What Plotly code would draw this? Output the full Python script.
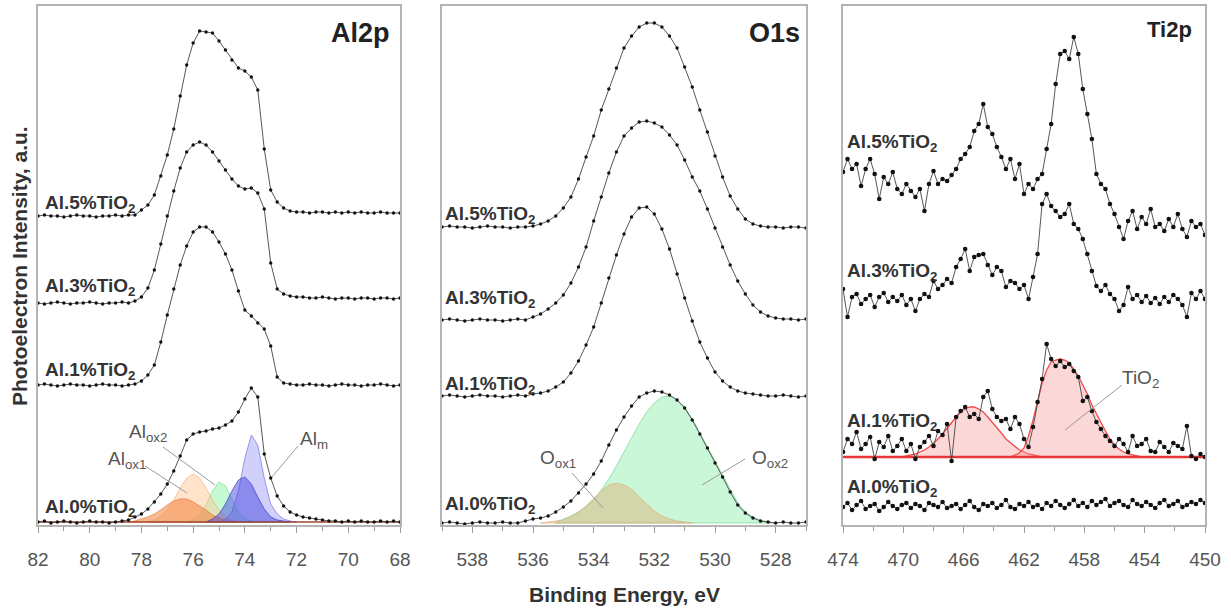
import plotly.graph_objects as go

W, H = 1231, 613

# ---------------- DATA ----------------
# Al2p panel (binding energy, eV) and intensities (a.u.)
AL2P_BE = [82.0, 81.75, 81.5, 81.25, 81.0, 80.75, 80.5, 80.25, 80.0, 79.75, 79.5, 79.25, 79.0, 78.75,
           78.5, 78.25, 78.0, 77.75, 77.5, 77.25, 77.0, 76.75, 76.5, 76.25, 76.0, 75.75, 75.5, 75.25,
           75.0, 74.75, 74.5, 74.25, 74.0, 73.75, 73.5, 73.25, 73.0, 72.75, 72.5, 72.25, 72.0, 71.75,
           71.5, 71.25, 71.0, 70.75, 70.5, 70.25, 70.0, 69.75, 69.5, 69.25, 69.0, 68.75, 68.5, 68.25, 68.0]
AL2P_5 = [309, 310, 309, 309, 308, 309, 310, 309, 309, 308, 309, 309, 310, 309, 310, 310,
          315, 320, 330, 349, 370, 396, 429, 460, 482, 494, 493, 492, 484, 475, 465, 457, 454, 448,
          435, 376, 335, 323, 317, 314, 313,
          313, 312, 313, 313, 312, 313, 312, 313, 312, 313, 312, 312, 313, 312, 312, 312]
AL2P_3 = [222, 221, 222, 223, 222, 221, 222, 222, 223, 222, 221, 222, 222, 223, 222,
          224, 228, 237, 255, 281, 309, 334, 357, 373, 380, 383, 380, 373, 364, 355, 346, 339, 336,
          337, 332, 316, 262, 236, 231, 229, 228,
          228, 227, 227, 228, 227, 226, 227, 227, 226, 227, 227, 226, 227, 227, 226, 227]
AL2P_1 = [140, 141, 140, 139, 140, 141, 140, 140, 139, 140, 141, 140, 140, 139, 140, 141,
          144, 150, 160, 183, 210, 236, 260, 279, 293, 298, 298, 293, 283, 271, 255, 234, 215, 209,
          202, 196, 179, 148, 142, 141, 140,
          140, 141, 140, 140, 139, 140, 141, 140, 140, 139, 140, 140, 141, 140, 139, 140]
AL2P_0 = [3, 4, 2, 3, 4, 3, 2, 3, 4, 3, 3, 2, 3, 4, 5,
          8, 11, 16, 23, 31, 41, 54, 69, 85, 91, 93, 94, 96, 97, 100, 104, 113, 126, 137, 128, 71,
          47, 29, 19, 13, 10,
          8, 7, 6, 5, 4, 4, 3, 4, 3, 4, 3, 3, 4, 3, 4, 3]
AL2P_BASE = 3
ALOX1_BE = [77.75, 77.5, 77.25, 77.0, 76.75, 76.5, 76.25, 76.0, 75.75, 75.5, 75.25, 75.0, 74.75, 74.5, 74.25]
ALOX1 = [0, 2, 5, 12, 22, 34, 44, 48, 44, 34, 22, 12, 5, 2, 0]
ALOX1B_BE = [78.5, 78.25, 78.0, 77.75, 77.5, 77.25, 77.0, 76.75, 76.5, 76.25, 76.0, 75.75, 75.5, 75.25,
             75.0, 74.75, 74.5, 74.25]
ALOX1B = [0, 1, 3, 5, 8, 12, 17, 21, 23, 23, 20, 16, 12, 7, 4, 2, 1, 0]
ALOX2_BE = [76.25, 76.0, 75.75, 75.5, 75.25, 75.0, 74.75, 74.5, 74.25, 74.0, 73.75, 73.5]
ALOX2 = [0, 2, 7, 17, 31, 40, 36, 23, 10, 3, 1, 0]
ALM_BE = [75.0, 74.75, 74.5, 74.25, 74.0, 73.75, 73.5, 73.25, 73.0, 72.75, 72.5, 72.25, 72.0]
ALM = [0, 2, 10, 31, 64, 87, 77, 44, 18, 8, 3, 1, 0]
ALMB_BE = [75.5, 75.25, 75.0, 74.75, 74.5, 74.25, 74.0, 73.75, 73.5, 73.25, 73.0, 72.75, 72.5, 72.25]
ALMB = [0, 3, 8, 18, 31, 42, 45, 38, 25, 13, 5, 2, 1, 0]

# O1s panel
O1S_BE = [539.0, 538.75, 538.5, 538.25, 538.0, 537.75, 537.5, 537.25, 537.0, 536.75, 536.5, 536.25,
          536.0, 535.75, 535.5, 535.25, 535.0, 534.75, 534.5, 534.25, 534.0, 533.75, 533.5, 533.25,
          533.0, 532.75, 532.5, 532.25, 532.0, 531.75, 531.5, 531.25, 531.0, 530.75, 530.5, 530.25,
          530.0, 529.75, 529.5, 529.25, 529.0, 528.75, 528.5, 528.25, 528.0, 527.75, 527.5, 527.25, 527.0]
O1S_5 = [298, 299, 298, 298, 297, 298, 299, 298, 298, 297, 298, 298,
         299, 301, 304, 309, 317, 328, 346, 368, 389, 415, 436, 457, 477, 489, 498, 502, 502, 498,
         489, 477, 458, 438, 415, 393, 369, 348, 329, 316, 306, 301, 299, 298,
         298, 297, 298, 298, 297]
O1S_3 = [205, 206, 205, 204, 205, 206, 205, 205, 204, 205, 206, 205,
         208, 211, 216, 222, 230, 242, 258, 278, 304, 328, 352, 373, 389, 397, 403, 404, 402, 398,
         390, 380, 365, 348, 334, 316, 297, 278, 260, 244, 231, 220, 213, 209,
         207, 206, 206, 205, 206]
O1S_1 = [129, 130, 129, 128, 129, 130, 129, 129, 128, 129, 130, 129,
         131, 132, 134, 138, 143, 152, 164, 180, 198, 222, 247, 270, 291, 308, 317, 318, 311, 296,
         276, 251, 227, 204, 183, 167, 153, 144, 138, 134, 132, 131, 130, 129,
         129, 130, 129, 128, 129]
O1S_0 = [2, 3, 2, 1, 2, 3, 2, 2, 3, 2, 2, 4,
         6, 7, 9, 13, 18, 24, 32, 41, 51, 64, 80, 95, 108, 119, 128, 132, 134, 133,
         130, 125, 117, 105, 91, 77, 62, 48, 33, 20, 12, 7, 4, 3,
         2, 3, 2, 2, 3]
O1S_BASE = 2
OOX1_BE = [535.75, 535.5, 535.25, 535.0, 534.75, 534.5, 534.25, 534.0, 533.75, 533.5, 533.25, 533.0,
           532.75, 532.5, 532.25, 532.0, 531.75, 531.5, 531.25, 531.0, 530.75]
OOX1 = [0, 1, 2, 3, 6, 11, 17, 25, 32, 38, 40, 38, 34, 26, 19, 12, 7, 4, 2, 1, 0]
OOX2_BE = [535.25, 535.0, 534.75, 534.5, 534.25, 534.0, 533.75, 533.5, 533.25, 533.0, 532.75, 532.5,
           532.25, 532.0, 531.75, 531.5, 531.25, 531.0, 530.75, 530.5, 530.25, 530.0, 529.75, 529.5,
           529.25, 529.0, 528.75, 528.5, 528.25, 528.0]
OOX2 = [0, 4, 7, 11, 16, 23, 33, 44, 57, 71, 85, 99, 111, 120, 126, 127, 123, 116, 104, 90, 76, 61,
        47, 33, 20, 11, 6, 3, 1, 0]

# Ti2p panel
TI_BE = [474.0, 473.7, 473.4, 473.1, 472.8, 472.5, 472.2, 471.9, 471.6, 471.3, 471.0, 470.7, 470.4,
         470.1, 469.8, 469.5, 469.2, 468.9, 468.6, 468.3, 468.0, 467.7, 467.4, 467.1, 466.8, 466.5,
         466.2, 465.9, 465.6, 465.3, 465.0, 464.7, 464.4, 464.1, 463.8, 463.5, 463.2, 462.9, 462.6,
         462.3, 462.0, 461.7, 461.4, 461.1, 460.8, 460.5, 460.2, 459.9, 459.6, 459.3, 459.0, 458.7,
         458.4, 458.1, 457.8, 457.5, 457.2, 456.9, 456.6, 456.3, 456.0, 455.7, 455.4, 455.1, 454.8,
         454.5, 454.2, 453.9, 453.6, 453.3, 453.0, 452.7, 452.4, 452.1, 451.8, 451.5, 451.2, 450.9,
         450.6, 450.3, 450.0]
TI_5 = [353, 366, 356, 361, 339, 356, 366, 351, 326, 348,
        341, 353, 336, 331, 341, 334, 328, 336, 314, 341,
        354, 341, 346, 344, 350, 356, 366, 371, 378, 394,
        401, 421, 398, 391, 378, 368, 356, 366, 346, 361,
        331, 341, 336, 346, 351, 376, 401, 441, 471, 474,
        466, 488, 471, 436, 411, 386, 351, 341, 336, 321,
        311, 298, 286, 304, 314, 296, 308, 301, 316, 298,
        301, 294, 306, 298, 311, 296, 288, 304, 298, 301,
        290]
TI_3 = [236, 208, 228, 231, 221, 226, 230, 218, 228, 232,
        223, 228, 224, 230, 220, 226, 214, 226, 231, 228,
        244, 236, 240, 246, 242, 258, 266, 276, 254, 268,
        270, 271, 260, 250, 258, 254, 238, 244, 242, 236,
        240, 226, 248, 271, 321, 331, 319, 314, 308, 311,
        321, 301, 296, 286, 271, 254, 239, 234, 240, 231,
        226, 214, 220, 238, 226, 230, 223, 229, 222, 227,
        221, 228, 223, 230, 226, 220, 208, 232, 226, 234,
        226]
TI_1 = [73, 86, 81, 93, 76, 81, 88, 66, 83, 78,
        89, 74, 79, 86, 74, 81, 66, 78, 83, 89,
        79, 94, 90, 101, 64, 108, 114, 118, 108, 111,
        106, 128, 134, 116, 108, 104, 106, 96, 108, 101,
        86, 78, 98, 123, 146, 181, 166, 159, 164, 158,
        161, 154, 148, 124, 128, 114, 103, 96, 89, 84,
        79, 86, 81, 73, 89, 79, 81, 86, 74, 73,
        83, 78, 73, 82, 79, 76, 99, 69, 66, 71,
        68]
TI_0 = [18, 22, 15, 20, 24, 16, 19, 21, 14, 18,
        23, 19, 16, 20, 22, 17, 21, 19, 15, 22,
        20, 18, 23, 17, 19, 21, 16, 20, 24, 18,
        15, 21, 19, 22, 17, 20, 25, 18, 16, 21,
        19, 23, 18, 20, 16, 22, 19, 24, 20, 17,
        21, 25, 19, 22, 18, 24, 20, 23, 26, 19,
        22, 24, 20, 18, 25, 21, 19, 23, 20, 17,
        22, 25, 19, 21, 24, 18, 20, 23, 21, 25,
        22]
TI_BASE = 68
TIC1_BE = [470.1, 469.8, 469.5, 469.2, 468.9, 468.6, 468.3, 468.0, 467.7, 467.4, 467.1, 466.8, 466.5,
           466.2, 465.9, 465.6, 465.3, 465.0, 464.7, 464.4, 464.1, 463.8, 463.5, 463.2, 462.9, 462.6,
           462.3, 462.0, 461.7, 461.4, 461.1, 460.8]
TIC1 = [0, 1, 2, 3, 5, 7, 10, 14, 18, 23, 29, 35, 40, 45, 48, 50, 50, 48, 45, 40, 35, 29, 24, 18, 14,
        10, 7, 5, 3, 2, 1, 0]
TIC2_BE = [462.9, 462.6, 462.3, 462.0, 461.7, 461.4, 461.1, 460.8, 460.5, 460.2, 459.9, 459.6, 459.3,
           459.0, 458.7, 458.4, 458.1, 457.8, 457.5, 457.2, 456.9, 456.6, 456.3, 456.0, 455.7, 455.4,
           455.1, 454.8, 454.5, 454.2]
TIC2 = [0, 2, 4, 9, 21, 37, 56, 74, 87, 95, 97, 98, 97, 94, 88, 81, 72, 63, 52, 43, 34, 26, 18, 12,
        8, 5, 3, 2, 1, 0]

SAMPLES = ["Al.5%TiO<sub>2</sub>", "Al.3%TiO<sub>2</sub>", "Al.1%TiO<sub>2</sub>", "Al.0%TiO<sub>2</sub>"]
AL2P_TICKS = [82, 80, 78, 76, 74, 72, 70, 68]
O1S_TICKS = [538, 536, 534, 532, 530, 528]
TI_TICKS = [474, 470, 466, 462, 458, 454, 450]

for xs, ys in [(AL2P_BE, AL2P_5), (AL2P_BE, AL2P_3), (AL2P_BE, AL2P_1), (AL2P_BE, AL2P_0),
               (O1S_BE, O1S_5), (O1S_BE, O1S_3), (O1S_BE, O1S_1), (O1S_BE, O1S_0),
               (TI_BE, TI_5), (TI_BE, TI_3), (TI_BE, TI_1), (TI_BE, TI_0),
               (ALOX1_BE, ALOX1), (ALOX1B_BE, ALOX1B), (ALOX2_BE, ALOX2), (ALM_BE, ALM),
               (ALMB_BE, ALMB), (OOX1_BE, OOX1), (OOX2_BE, OOX2), (TIC1_BE, TIC1), (TIC2_BE, TIC2)]:
    assert len(xs) == len(ys), (len(xs), len(ys))

# ---------------- FIGURE ----------------
def PX(x):
    return x / W


def PY(y):
    return (H - y) / H


fig = go.Figure()


def data_trace(x, y, xa, ya, msize, lw=0.9):
    fig.add_trace(go.Scatter(x=x, y=y, mode="lines+markers", xaxis=xa, yaxis=ya,
                             line=dict(color="#444444", width=lw),
                             marker=dict(size=msize, color="#111111"),
                             showlegend=False, hoverinfo="skip"))


def fill_trace(x, vals, base, fillcolor, linecolor, xa, ya, lw=0.8):
    xs = list(x) + list(x)[::-1]
    ys = [base + v for v in vals] + [base] * len(x)
    fig.add_trace(go.Scatter(x=xs, y=ys, mode="lines", fill="toself", fillcolor=fillcolor,
                             line=dict(color=linecolor, width=lw), xaxis=xa, yaxis=ya,
                             showlegend=False, hoverinfo="skip"))


# Al2p components
fill_trace(ALOX2_BE, ALOX2, AL2P_BASE, "rgba(150,245,175,0.55)", "rgba(110,220,140,0.9)", "x", "y")
fill_trace(ALOX1_BE, ALOX1, AL2P_BASE, "rgba(255,200,150,0.5)", "rgba(245,180,130,0.9)", "x", "y")
fill_trace(ALOX1B_BE, ALOX1B, AL2P_BASE, "rgba(240,130,60,0.55)", "rgba(235,120,50,0.9)", "x", "y")
fill_trace(ALM_BE, ALM, AL2P_BASE, "rgba(150,150,245,0.45)", "rgba(120,120,230,0.9)", "x", "y")
fill_trace(ALMB_BE, ALMB, AL2P_BASE, "rgba(70,70,225,0.5)", "rgba(60,60,200,0.9)", "x", "y")
fig.add_trace(go.Scatter(x=[AL2P_BE[0], AL2P_BE[-1]], y=[AL2P_BASE, AL2P_BASE], mode="lines",
                         line=dict(color="#a04a30", width=1.6), xaxis="x", yaxis="y",
                         showlegend=False, hoverinfo="skip"))
for ys in (AL2P_5, AL2P_3, AL2P_1, AL2P_0):
    data_trace(AL2P_BE, ys, "x", "y", 3.4)

# O1s components
fill_trace(OOX2_BE, OOX2, O1S_BASE, "rgba(150,240,175,0.5)", "rgba(120,215,145,0.9)", "x2", "y2")
fill_trace(OOX1_BE, OOX1, O1S_BASE, "rgba(225,160,100,0.38)", "rgba(225,175,125,0.9)", "x2", "y2")
for ys in (O1S_5, O1S_3, O1S_1, O1S_0):
    data_trace(O1S_BE, ys, "x2", "y2", 3.4)

# Ti2p fit
fill_trace(TIC1_BE, TIC1, TI_BASE, "rgba(245,140,140,0.35)", "#f04a4a", "x3", "y3", 1.3)
fill_trace(TIC2_BE, TIC2, TI_BASE, "rgba(245,140,140,0.35)", "#f04a4a", "x3", "y3", 1.3)
fig.add_trace(go.Scatter(x=[TI_BE[0], TI_BE[-1]], y=[TI_BASE, TI_BASE], mode="lines",
                         line=dict(color="#e83535", width=2.4), xaxis="x3", yaxis="y3",
                         showlegend=False, hoverinfo="skip"))
for ys in (TI_5, TI_3, TI_1, TI_0):
    data_trace(TI_BE, ys, "x3", "y3", 4.6)

# ---------------- AXES ----------------
YDOM = [PY(525), PY(6)]
axis_common = dict(showline=True, mirror=True, linecolor="#b4b4b4", linewidth=1.5,
                   showgrid=False, zeroline=False, automargin=False)
xcommon = dict(axis_common, ticks="outside", ticklen=6, tickwidth=1.2, tickcolor="#9a9a9a",
               tickfont=dict(family="Liberation Sans, Arial", size=19, color="#555555"),
               ticklabelstandoff=10)
ycommon = dict(axis_common, showticklabels=False, ticks="", range=[0, 519], domain=YDOM)

fig.update_layout(
    template="none",
    xaxis=dict(xcommon, domain=[PX(38), PX(400)], range=[82, 68], anchor="y",
               tickmode="array", tickvals=AL2P_TICKS, ticktext=[str(t) for t in AL2P_TICKS],
               minor=dict(ticks="outside", ticklen=4, tickcolor="#9a9a9a", dtick=1, tick0=0)),
    xaxis2=dict(xcommon, domain=[PX(442), PX(806)], range=[539, 527], anchor="y2",
                tickmode="array", tickvals=O1S_TICKS, ticktext=[str(t) for t in O1S_TICKS],
                minor=dict(ticks="outside", ticklen=4, tickcolor="#9a9a9a", dtick=1, tick0=0)),
    xaxis3=dict(xcommon, domain=[PX(843), PX(1205)], range=[474, 450], anchor="y3",
                tickmode="array", tickvals=TI_TICKS, ticktext=[str(t) for t in TI_TICKS],
                minor=dict(ticks="outside", ticklen=4, tickcolor="#9a9a9a", dtick=2, tick0=0)),
    yaxis=dict(ycommon, anchor="x"),
    yaxis2=dict(ycommon, anchor="x2"),
    yaxis3=dict(ycommon, anchor="x3"),
    width=W, height=H, margin=dict(l=0, r=0, t=0, b=0, pad=0, autoexpand=False),
    paper_bgcolor="white", plot_bgcolor="white", showlegend=False,
)

# ---------------- TEXT ----------------
ann = []


def text(x, y, s, size, bold=False, color="#333333", xanchor="left", angle=0):
    ann.append(dict(x=PX(x), y=PY(y), xref="paper", yref="paper", text=(f"<b>{s}</b>" if bold else s),
                    showarrow=False, xanchor=xanchor, yanchor="middle", textangle=angle,
                    font=dict(family="Liberation Sans, Arial", size=size, color=color)))


# sample labels
for s, y in zip(SAMPLES, [204, 287, 371, 508]):
    text(43, y, s, 19, True)
for s, y in zip(SAMPLES, [215, 299, 385, 505]):
    text(443, y, s, 19, True)
for s, y in zip(SAMPLES, [143, 272, 422, 488]):
    text(845, y, s, 19, True)

# panel titles
text(360, 33, "Al2p", 27, True, "#222222", "center")
text(774, 33, "O1s", 27, True, "#222222", "center")
text(1169, 30, "Ti2p", 22, True, "#222222", "center")

# component labels
SUBC = "#555555"
text(148, 433, "Al<sub>ox2</sub>", 19, False, SUBC, "center")
text(127, 460, "Al<sub>ox1</sub>", 19, False, SUBC, "center")
text(314, 440, "Al<sub>m</sub>", 19, False, SUBC, "center")
text(558, 459, "O<sub>ox1</sub>", 19, False, SUBC, "center")
text(770, 459, "O<sub>ox2</sub>", 19, False, SUBC, "center")
text(1140, 379, "TiO<sub>2</sub>", 19, False, SUBC, "center")

# axis titles
text(624, 594, "Binding Energy, eV", 21, True, "#333333", "center")
text(19, 266, "Photoelectron Intensity, a.u.", 21, True, "#333333", "center", -90)

fig.update_layout(annotations=ann)

# leader lines
LEADERS = [((163, 447), (215, 485)), ((145, 466), (187, 493)), ((298, 446), (272, 477)),
           ((572, 473), (603, 508)), ((745, 459), (702, 485)), ((1122, 385), (1065, 430))]
shapes = []
for (x0, y0), (x1, y1) in LEADERS:
    shapes.append(dict(type="line", xref="paper", yref="paper", x0=PX(x0), y0=PY(y0), x1=PX(x1),
                       y1=PY(y1), line=dict(color="#9a9a9a", width=1)))
fig.update_layout(shapes=shapes)

fig.write_html("out.html", config={"displayModeBar": False},
               post_script="document.body.style.margin='0';document.body.style.overflow='hidden';")
